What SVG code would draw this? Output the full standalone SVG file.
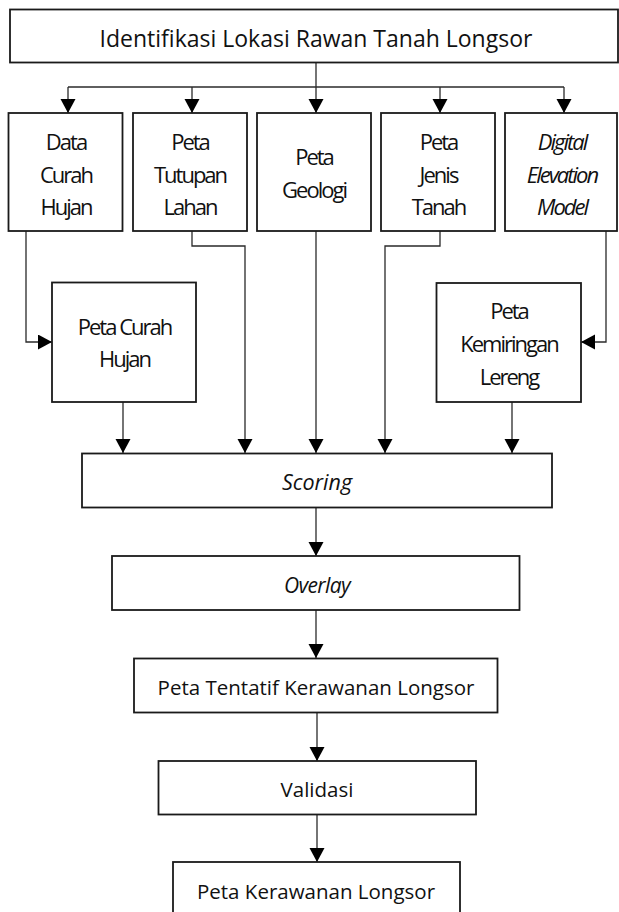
<svg xmlns="http://www.w3.org/2000/svg" width="619" height="912" viewBox="0 0 619 912">
<style>
.box{fill:#fff;stroke:#1a1a1a;stroke-width:1.8}
.t{font-family:"Open Sans","Liberation Sans",sans-serif;font-size:20.5px;fill:#111;text-anchor:middle}
.c{font-size:22px;letter-spacing:-2px}
.i{font-style:italic}
.ln{fill:none;stroke:#2a2a2a;stroke-width:1.3}
</style>
<defs>
<marker id="ah" markerUnits="userSpaceOnUse" markerWidth="15" markerHeight="16" refX="14" refY="7.5" orient="auto">
<path d="M0,0 L14,7.5 L0,15 z" fill="#000"/>
</marker>
</defs>
<g id="connectors">
<path class="ln" d="M316,63 V87"/>
<path class="ln" d="M68,87 H564"/>
<path class="ln" d="M68,87 V113" marker-end="url(#ah)"/>
<path class="ln" d="M192,87 V113" marker-end="url(#ah)"/>
<path class="ln" d="M316,87 V113" marker-end="url(#ah)"/>
<path class="ln" d="M440,87 V113" marker-end="url(#ah)"/>
<path class="ln" d="M564,87 V113" marker-end="url(#ah)"/>
<path class="ln" d="M26,231 V342 H52" marker-end="url(#ah)"/>
<path class="ln" d="M192,231 V246 H245 V453" marker-end="url(#ah)"/>
<path class="ln" d="M316,231 V453" marker-end="url(#ah)"/>
<path class="ln" d="M440,231 V246 H385 V453" marker-end="url(#ah)"/>
<path class="ln" d="M606,231 V342 H581" marker-end="url(#ah)"/>
<path class="ln" d="M123,402 V453" marker-end="url(#ah)"/>
<path class="ln" d="M512,402 V453" marker-end="url(#ah)"/>
<path class="ln" d="M316,507 V556" marker-end="url(#ah)"/>
<path class="ln" d="M316,610 V658" marker-end="url(#ah)"/>
<path class="ln" d="M317,712 V761" marker-end="url(#ah)"/>
<path class="ln" d="M317,814 V862" marker-end="url(#ah)"/>
</g>
<g id="identifikasi">
<rect class="box" x="10" y="9.5" width="608" height="53"/>
<text class="t" x="316" y="47" style="font-size:23px">Identifikasi Lokasi Rawan Tanah Longsor</text>
</g>
<g id="data-curah-hujan">
<rect class="box" x="8.5" y="113" width="114" height="118"/>
<text class="t c" x="66" y="150">Data</text>
<text class="t c" x="66" y="183">Curah</text>
<text class="t c" x="66" y="215">Hujan</text>
</g>
<g id="peta-tutupan-lahan">
<rect class="box" x="133" y="113" width="114" height="118"/>
<text class="t c" x="190" y="150">Peta</text>
<text class="t c" x="190" y="183">Tutupan</text>
<text class="t c" x="190" y="215">Lahan</text>
</g>
<g id="peta-geologi">
<rect class="box" x="257" y="113" width="114" height="118"/>
<text class="t c" x="314" y="165">Peta</text>
<text class="t c" x="314" y="198">Geologi</text>
</g>
<g id="peta-jenis-tanah">
<rect class="box" x="381" y="113" width="114" height="118"/>
<text class="t c" x="438.5" y="150">Peta</text>
<text class="t c" x="438.5" y="183">Jenis</text>
<text class="t c" x="438.5" y="215">Tanah</text>
</g>
<g id="dem">
<rect class="box" x="505" y="113" width="112" height="118"/>
<text class="t c i" x="562" y="150">Digital</text>
<text class="t c i" x="562" y="183">Elevation</text>
<text class="t c i" x="562" y="215">Model</text>
</g>
<g id="peta-curah-hujan">
<rect class="box" x="52" y="282.5" width="144" height="119.5"/>
<text class="t c" x="124.5" y="335">Peta Curah</text>
<text class="t c" x="124.5" y="367">Hujan</text>
</g>
<g id="peta-kemiringan-lereng">
<rect class="box" x="436.5" y="283" width="144.5" height="119"/>
<text class="t c" x="509" y="319">Peta</text>
<text class="t c" x="509" y="352">Kemiringan</text>
<text class="t c" x="509" y="385">Lereng</text>
</g>
<g id="scoring">
<rect class="box" x="82" y="453.5" width="470" height="54"/>
<text class="t i" x="317" y="490" style="font-size:21.5px">Scoring</text>
</g>
<g id="overlay">
<rect class="box" x="112" y="556" width="407.5" height="54"/>
<text class="t i" x="317" y="593" style="font-size:21px;letter-spacing:-0.6px">Overlay</text>
</g>
<g id="peta-tentatif">
<rect class="box" x="134" y="658.5" width="363.5" height="54"/>
<text class="t" x="316" y="695">Peta Tentatif Kerawanan Longsor</text>
</g>
<g id="validasi">
<rect class="box" x="158.5" y="761" width="317.5" height="53.5"/>
<text class="t" x="317" y="797">Validasi</text>
</g>
<g id="peta-kerawanan">
<rect class="box" x="173" y="862" width="287" height="60"/>
<text class="t" x="316" y="899">Peta Kerawanan Longsor</text>
</g>
</svg>
